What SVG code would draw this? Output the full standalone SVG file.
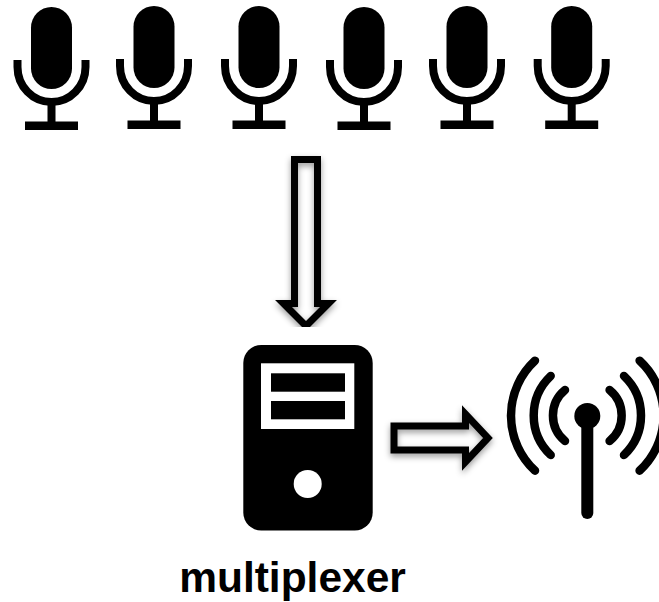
<svg xmlns="http://www.w3.org/2000/svg" width="659" height="602" viewBox="0 0 659 602">
<style>
.k{fill:#000}
.w{fill:#fff}
.c{fill:none;stroke:#000;stroke-width:8}
.r{fill:none;stroke:#000;stroke-width:8.500;stroke-linecap:round}
.f{fill:#fff;stroke:none}
.a{fill:none;stroke:#000;stroke-width:7;filter:url(#sh)}
text{font-family:"Liberation Sans",Arial,sans-serif;font-weight:700;font-size:42.500px;fill:#000}
</style>
<defs>
<filter id="sh" x="-40%" y="-40%" width="180%" height="180%"><feDropShadow dx="0" dy="3" stdDeviation="3" flood-color="#000" flood-opacity="0.4"/></filter>
<clipPath id="cut"><rect x="260" y="140" width="100" height="187"/></clipPath>
<g id="mic">
<rect class="k" x="-20.500" y="0" width="41" height="82" rx="20.500"/>
<path class="c" d="M-34 53V60A34 35 0 0 0 34 60V53"/>
<rect class="k" x="-4" y="94" width="8" height="22"/>
<rect class="k" x="-26.500" y="114.500" width="53" height="8.500"/>
</g>
</defs>
<g id="connectors">
<g clip-path="url(#cut)">
<path class="f" d="M294.500 159.500H317.500V303.500H328.500L306 326L283.500 303.500H294.500Z"/>
<path class="a" d="M294.500 159.500H317.500V303.500H328.500L306 326L283.500 303.500H294.500Z"/>
</g>
<path class="f" d="M394 426H465.500V414L488 438L465.500 462V450H394Z"/>
<path class="a" stroke-width="6.500" d="M394 426H465.500V414L488 438L465.500 462V450H394Z"/>
</g>
<g id="mic1"><use href="#mic" x="51.500" y="7"/></g>
<g id="mic2"><use href="#mic" x="154" y="6"/></g>
<g id="mic3"><use href="#mic" x="259" y="6"/></g>
<g id="mic4"><use href="#mic" x="364" y="7"/></g>
<g id="mic5"><use href="#mic" x="467" y="6"/></g>
<g id="mic6"><use href="#mic" x="571.700" y="6"/></g>
<g id="multiplexer">
<rect class="k" x="243.300" y="345" width="129.400" height="185.500" rx="18"/>
<rect class="w" x="261" y="363.300" width="93.300" height="65.700"/>
<rect class="k" x="271" y="373.300" width="74" height="18.400"/>
<rect class="k" x="271" y="401" width="74" height="18.300"/>
<circle class="w" cx="307.700" cy="484" r="14"/>
<text x="292.500" y="592" text-anchor="middle">multiplexer</text>
</g>
<g id="antenna">
<circle class="k" cx="587.300" cy="416" r="13"/>
<path d="M587.300 420V513" fill="none" stroke="#000" stroke-width="12" stroke-linecap="round"/>
<path class="r" d="M565 390A33 33 0 0 0 565 441"/>
<path class="r" d="M609.600 390A33 33 0 0 1 609.600 441"/>
<path class="r" d="M550.700 376A54.400 54.400 0 0 0 550.700 455"/>
<path class="r" d="M624 376A54.400 54.400 0 0 1 624 455"/>
<path class="r" d="M535 360.700A75 75 0 0 0 535 470.700"/>
<path class="r" d="M639.600 360.700A75 75 0 0 1 639.600 470.700"/>
</g>
</svg>
